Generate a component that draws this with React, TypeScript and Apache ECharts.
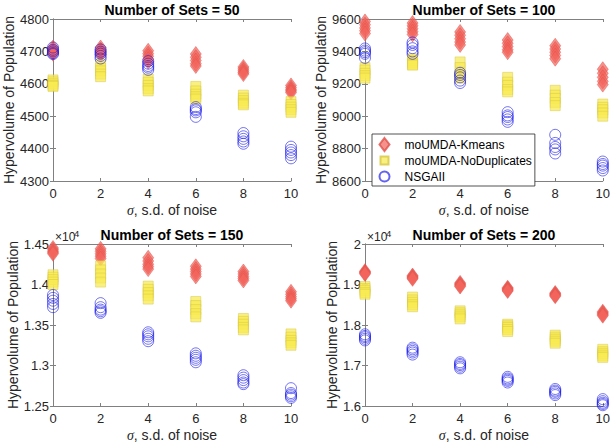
import React, { useEffect, useRef } from "react";
import * as echarts from "echarts";

const sigma = [0, 2, 4, 6, 8, 10];
const methodNames = ["moUMDA-Kmeans", "moUMDA-NoDuplicates", "NSGAII"];
const panelTitles = ["Number of Sets = 50", "Number of Sets = 100", "Number of Sets = 150", "Number of Sets = 200"];

// Panel 1: Number of Sets = 50 (rows follow sigma)
const sets50Kmeans = [
  [4712, 4706, 4700, 4697, 4693],
  [4712, 4705, 4700, 4695, 4690],
  [4702, 4693, 4685, 4676, 4668],
  [4692, 4682, 4672, 4662, 4655],
  [4652, 4646, 4640, 4635, 4630],
  [4595, 4588, 4582, 4578, 4573],
];
const sets50NoDup = [
  [4612, 4606, 4600, 4595, 4592],
  [4660, 4648, 4640, 4630, 4622],
  [4615, 4605, 4595, 4585, 4578],
  [4592, 4578, 4568, 4560, 4553],
  [4565, 4556, 4548, 4540, 4535],
  [4545, 4536, 4528, 4520, 4512],
];
const sets50NSGA = [
  [4712, 4705, 4700, 4695, 4692],
  [4706, 4699, 4693, 4686, 4678],
  [4670, 4662, 4655, 4650, 4643],
  [4528, 4522, 4518, 4512, 4498],
  [4448, 4438, 4430, 4422, 4415],
  [4406, 4396, 4388, 4380, 4370],
];

// Panel 2: Number of Sets = 100
const sets100Kmeans = [
  [9585, 9565, 9545, 9528, 9510],
  [9575, 9558, 9540, 9522, 9505],
  [9520, 9500, 9478, 9458, 9440],
  [9470, 9450, 9430, 9410, 9395],
  [9435, 9415, 9395, 9375, 9355],
  [9290, 9265, 9240, 9215, 9195],
];
const sets100NoDup = [
  [9300, 9285, 9265, 9250, 9235],
  [9355, 9342, 9330, 9320, 9315],
  [9335, 9300, 9270, 9250, 9235],
  [9240, 9210, 9190, 9165, 9150],
  [9160, 9130, 9110, 9085, 9065],
  [9075, 9055, 9040, 9020, 9000],
];
const sets100NSGA = [
  [9418, 9405, 9395, 9385, 9360],
  [9455, 9440, 9420, 9400, 9385],
  [9268, 9255, 9240, 9220, 9205],
  [9025, 9005, 8995, 8980, 8965],
  [8885, 8835, 8810, 8795, 8770],
  [8720, 8705, 8695, 8680, 8665],
];

// Panel 3: Number of Sets = 150
const sets150Kmeans = [
  [14450, 14430, 14410, 14395, 14380],
  [14440, 14410, 14380, 14350, 14320],
  [14330, 14290, 14250, 14220, 14190],
  [14225, 14190, 14160, 14130, 14100],
  [14160, 14130, 14100, 14075, 14050],
  [13910, 13880, 13850, 13825, 13800],
];
const sets150NoDup = [
  [14120, 14090, 14060, 14030, 14000],
  [14230, 14180, 14130, 14080, 14030],
  [13980, 13940, 13900, 13860, 13820],
  [13790, 13740, 13690, 13640, 13600],
  [13580, 13545, 13510, 13470, 13440],
  [13390, 13350, 13310, 13280, 13250],
];
const sets150NSGA = [
  [13870, 13835, 13800, 13760, 13720],
  [13770, 13720, 13690, 13670, 13650],
  [13410, 13385, 13360, 13330, 13300],
  [13150, 13120, 13095, 13070, 13040],
  [12880, 12850, 12820, 12790, 12770],
  [12720, 12660, 12640, 12620, 12600],
];

// Panel 4: Number of Sets = 200
const sets200Kmeans = [
  [19330, 19310, 19295, 19280, 19260],
  [19220, 19200, 19180, 19160, 19140],
  [19040, 19015, 18995, 18970, 18950],
  [18920, 18900, 18880, 18860, 18840],
  [18790, 18770, 18750, 18730, 18710],
  [18330, 18305, 18280, 18255, 18230],
];
const sets200NoDup = [
  [18950, 18900, 18850, 18800, 18760],
  [18690, 18620, 18560, 18500, 18450],
  [18350, 18300, 18250, 18200, 18150],
  [18020, 17980, 17940, 17890, 17840],
  [17750, 17700, 17650, 17600, 17550],
  [17400, 17340, 17290, 17240, 17200],
];
const sets200NSGA = [
  [17770, 17730, 17700, 17660, 17620],
  [17440, 17400, 17360, 17320, 17270],
  [17080, 17040, 17010, 16970, 16930],
  [16720, 16680, 16650, 16620, 16580],
  [16420, 16380, 16350, 16310, 16270],
  [16170, 16120, 16080, 16050, 16020],
];

// y-axis ranges per panel
const yMins = [4300, 8600, 12500, 16000];
const yMaxs = [4800, 9600, 14500, 20000];
const yIntervals = [100, 200, 500, 1000];
const yScaled = [false, false, true, true];

const panelData = [
  [sets50Kmeans, sets50NoDup, sets50NSGA],
  [sets100Kmeans, sets100NoDup, sets100NSGA],
  [sets150Kmeans, sets150NoDup, sets150NSGA],
  [sets200Kmeans, sets200NoDup, sets200NSGA],
];

const FONT = "'Liberation Sans', Arial, Helvetica, sans-serif";
const TXT = "#262626";
const FRAME = "#808080";

const grids = [
  { left: 53, top: 19, width: 238, height: 162 },
  { left: 365, top: 19, width: 238, height: 162 },
  { left: 53, top: 244, width: 238, height: 162 },
  { left: 365, top: 244, width: 238, height: 162 },
];
const yNameGaps = [35, 35, 31, 26];

const markerStyles = [
  {
    symbol: "diamond",
    symbolSize: [11, 15],
    itemStyle: { color: "rgba(242,100,92,0.88)", borderColor: "#E0504A", borderWidth: 0.6 },
  },
  {
    symbol: "rect",
    symbolSize: [10, 10],
    itemStyle: { color: "rgba(248,234,82,0.9)", borderColor: "#D6C641", borderWidth: 0.6 },
  },
  {
    symbol: "circle",
    symbolSize: [11, 11],
    itemStyle: { color: "rgba(0,0,0,0)", borderColor: "rgba(25,25,235,0.85)", borderWidth: 0.9 },
  },
];

// legend icons drawn in a 13x13 frame (zero-length corner moves keep the frame size)
const legendIcons = [
  "path://M0,0 L0,0 M13,13 L13,13 M6.5,0 L11.5,6.5 L6.5,13 L1.5,6.5 Z",
  "path://M0,0 L0,0 M13,13 L13,13 M2.5,2.5 L10.5,2.5 L10.5,10.5 L2.5,10.5 Z",
  "path://M0,0 L0,0 M13,13 L13,13 M6.5,1.5 A5,5 0 1,1 6.5,11.5 A5,5 0 1,1 6.5,1.5 Z",
];

function toPoints(rows: number[][]) {
  const pts: number[][] = [];
  rows.forEach((vals, i) => vals.forEach((v) => pts.push([sigma[i], v])));
  return pts;
}

export default function App() {
  const ref = useRef<HTMLDivElement>(null);
  useEffect(() => {
    if (!ref.current) return;
    const chart = echarts.init(ref.current, undefined, { renderer: "svg" });

    const xAxes: any[] = [];
    const yAxes: any[] = [];
    const series: any[] = [];
    const titles: any[] = [];

    grids.forEach((g, p) => {
      const xBase = {
        type: "value",
        gridIndex: p,
        min: 0,
        max: 10,
        interval: 2,
        splitLine: { show: false },
        axisLine: { show: true, lineStyle: { color: FRAME, width: 1 } },
        axisTick: { show: true, inside: true, length: 3, lineStyle: { color: FRAME } },
      };
      xAxes.push({
        ...xBase,
        position: "bottom",
        axisLabel: { show: true, margin: 6, fontSize: 13, color: TXT, fontFamily: FONT, showMinLabel: true, showMaxLabel: true },
        name: "{i|σ}, s.d. of noise",
        nameLocation: "middle",
        nameGap: 22,
        nameTextStyle: {
          fontSize: 14,
          color: TXT,
          fontFamily: FONT,
          rich: { i: { fontStyle: "italic", fontSize: 14, fontFamily: "'Liberation Serif', serif", color: TXT } },
        },
      });
      xAxes.push({ ...xBase, position: "top", axisLabel: { show: false } });

      const yBase = {
        type: "value",
        gridIndex: p,
        min: yMins[p],
        max: yMaxs[p],
        interval: yIntervals[p],
        splitLine: { show: false },
        axisLine: { show: true, lineStyle: { color: FRAME, width: 1 } },
        axisTick: { show: true, inside: true, length: 3, lineStyle: { color: FRAME } },
      };
      yAxes.push({
        ...yBase,
        position: "left",
        axisLabel: {
          show: true,
          margin: 4,
          fontSize: 13,
          color: TXT,
          fontFamily: FONT,
          showMinLabel: true,
          showMaxLabel: true,
          formatter: (v: number) => (yScaled[p] ? String(Math.round(v / 100) / 100) : String(v)),
        },
        name: "Hypervolume of Population",
        nameLocation: "middle",
        nameGap: yNameGaps[p],
        nameTextStyle: { fontSize: 14, color: TXT, fontFamily: FONT },
      });
      yAxes.push({ ...yBase, position: "right", axisLabel: { show: false } });

      panelData[p].forEach((rows, m) => {
        series.push({
          type: "scatter",
          name: methodNames[m],
          xAxisIndex: p * 2,
          yAxisIndex: p * 2,
          clip: false,
          symbol: markerStyles[m].symbol,
          symbolSize: markerStyles[m].symbolSize,
          itemStyle: markerStyles[m].itemStyle,
          emphasis: { disabled: true },
          data: toPoints(rows),
          z: 2 + m,
        });
      });

      titles.push({
        text: panelTitles[p],
        left: g.left + g.width / 2,
        top: g.top - 16,
        textAlign: "center",
        textStyle: { fontSize: 14, fontWeight: "bold", color: "#000", fontFamily: FONT },
        padding: 0,
      });
    });

    const graphics: any[] = [];
    [2, 3].forEach((p) => {
      const g = grids[p];
      graphics.push({
        type: "text",
        left: g.left + 2,
        top: g.top - 13,
        style: { text: "×10", fontSize: 12, fill: TXT, fontFamily: FONT },
      });
      graphics.push({
        type: "text",
        left: g.left + 21,
        top: g.top - 16,
        style: { text: "4", fontSize: 9.5, fill: TXT, fontFamily: FONT },
      });
    });

    chart.setOption({
      animation: false,
      backgroundColor: "#fff",
      title: titles,
      grid: grids.map((g) => ({ ...g, containLabel: false })),
      xAxis: xAxes,
      yAxis: yAxes,
      series,
      graphic: graphics,
      legend: {
        data: methodNames.map((n, i) => ({ name: n, icon: legendIcons[i] })),
        orient: "vertical",
        left: 372,
        top: 134,
        padding: [3, 3, 2, 5],
        itemWidth: 30,
        itemHeight: 13,
        itemGap: 1,
        symbolKeepAspect: true,
        backgroundColor: "#fff",
        borderColor: "#262626",
        borderWidth: 0.8,
        selectedMode: false,
        textStyle: { fontSize: 12, color: "#000", fontFamily: FONT },
      },
    });

    return () => chart.dispose();
  }, []);

  return <div ref={ref} style={{ position: "fixed", left: 0, top: 0, width: 613, height: 448 }} />;
}
